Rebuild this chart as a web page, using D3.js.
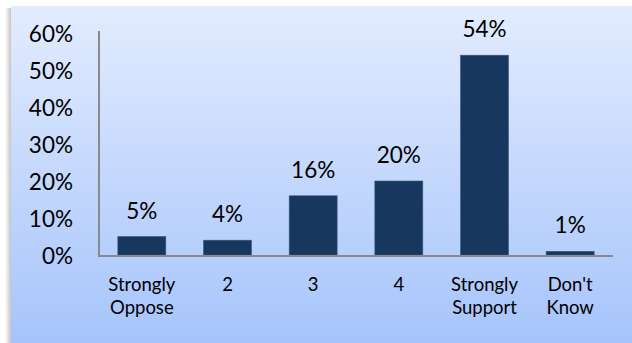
<!DOCTYPE html>
<html>
<head>
<meta charset="utf-8">
<script src="https://cdn.jsdelivr.net/npm/d3@7"></script>
<style>
  html, body { margin: 0; padding: 0; background: #fff; }
  svg { display: block; }
  text { font-family: Lato, "Open Sans", sans-serif; fill: #000; }
</style>
</head>
<body>
<div id="chart"></div>
<script>
// Survey responses: share of respondents per answer
const categories = [["Strongly", "Oppose"], ["2"], ["3"], ["4"], ["Strongly", "Support"], ["Don't", "Know"]];
const values = [5, 4, 16, 20, 54, 1];
const yTicks = [0, 10, 20, 30, 40, 50, 60];

const W = 632, H = 343;
const svg = d3.select("#chart").append("svg").attr("width", W).attr("height", H);

const defs = svg.append("defs");
const bg = defs.append("linearGradient").attr("id", "bg").attr("x1", 0).attr("y1", 0).attr("x2", 0).attr("y2", 1);
bg.append("stop").attr("offset", 0).attr("stop-color", "#e3ecfe");
bg.append("stop").attr("offset", 1).attr("stop-color", "#a6c4fb");
const sh = defs.append("linearGradient").attr("id", "shadow").attr("x1", 0).attr("y1", 0).attr("x2", 1).attr("y2", 0);
sh.append("stop").attr("offset", 0).attr("stop-color", "#ffffff");
sh.append("stop").attr("offset", 1).attr("stop-color", "#c4c4c4");

// panel with soft left shadow
svg.append("rect").attr("x", 5).attr("y", 8).attr("width", 6).attr("height", H - 8).attr("fill", "url(#shadow)");
svg.append("rect").attr("x", 11).attr("y", 6).attr("width", W - 11).attr("height", H - 6).attr("fill", "url(#bg)");

const x0 = 99, x1 = 613, yTop = 33, yBase = 255;
const x = d3.scaleBand().domain(d3.range(categories.length)).range([x0, x1]).paddingInner(0.44).paddingOuter(0.22);
const y = d3.scaleLinear().domain([0, 60]).range([yBase, yTop]);

// bars
svg.append("g").selectAll("rect").data(values).join("rect")
  .attr("x", (d, i) => x(i))
  .attr("y", d => y(d))
  .attr("width", x.bandwidth())
  .attr("height", d => y(0) - y(d))
  .attr("fill", "#17375e")
  .attr("stroke", "#3a5a80")
  .attr("stroke-width", 0.6);

// y axis
const yAxis = d3.axisLeft(y).tickValues(yTicks).tickSize(0).tickPadding(0).tickFormat(d => d + "%");
const gy = svg.append("g").attr("transform", `translate(${x0},0)`).call(yAxis);
gy.select(".domain").remove();
gy.selectAll("text").attr("x", -26).attr("text-anchor", "end").attr("font-size", 22.5).attr("font-family", "Lato").attr("dy", "0.36em");
svg.append("line").attr("x1", x0).attr("x2", x0).attr("y1", 31).attr("y2", yBase + 1)
  .attr("stroke", "#8a8a8a").attr("stroke-width", 2);
svg.append("line").attr("x1", x0 - 1).attr("x2", x1).attr("y1", yBase + 1).attr("y2", yBase + 1)
  .attr("stroke", "#8a8a8a").attr("stroke-width", 2);

// category labels
const xl = svg.append("g").selectAll("text").data(categories).join("text")
  .attr("text-anchor", "middle")
  .attr("font-size", 18.5)
  .attr("transform", (d, i) => `translate(${x(i) + x.bandwidth() / 2},291)`);
xl.selectAll("tspan").data(d => d).join("tspan")
  .attr("x", 0).attr("dy", (d, j) => j === 0 ? 0 : 23).text(d => d);

// value labels
svg.append("g").selectAll("text").data(values).join("text")
  .attr("x", (d, i) => x(i) + x.bandwidth() / 2)
  .attr("y", d => y(d) - 18)
  .attr("text-anchor", "middle")
  .attr("font-size", 22.5)
  .text(d => d + "%");
</script>
</body>
</html>
